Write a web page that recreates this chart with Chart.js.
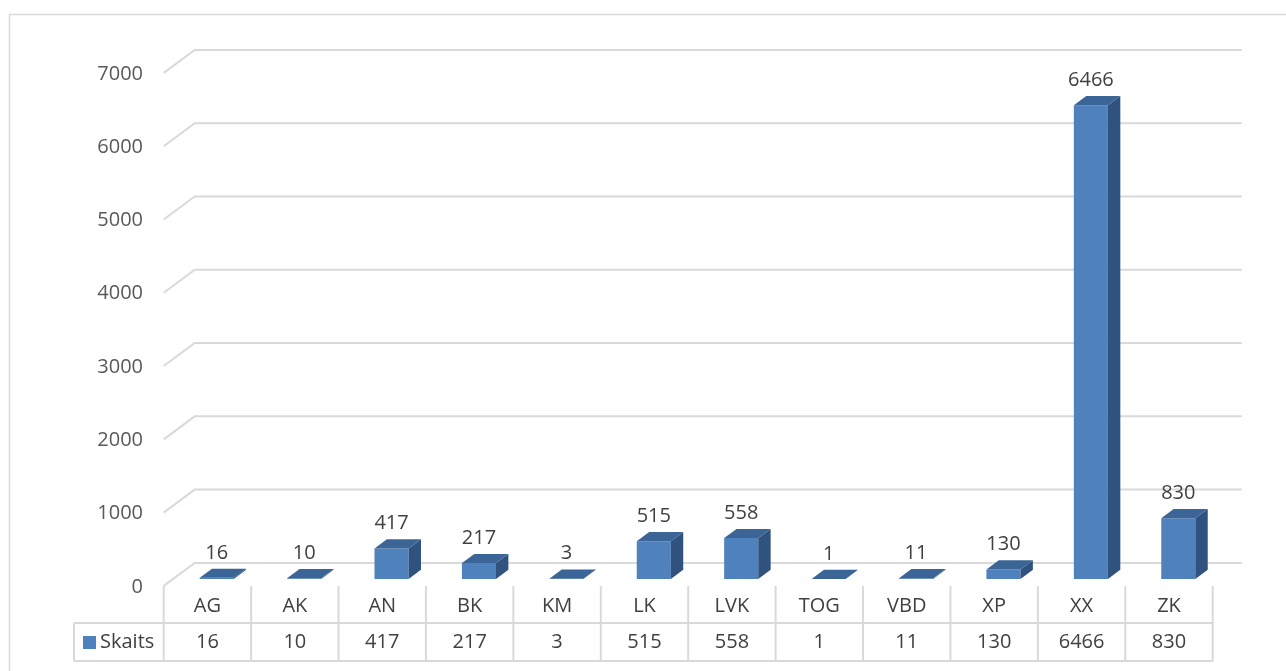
<!DOCTYPE html>
<html>
<head>
<meta charset="utf-8">
<script src="https://cdn.jsdelivr.net/npm/chart.js@4.4.1/dist/chart.umd.min.js"></script>
<style>
  body { margin: 0; background: #fff; }
  canvas { display: block; }
</style>
</head>
<body>
<canvas id="myChart" width="1286" height="671"></canvas>
<script>
// Data
const categories = ['AG', 'AK', 'AN', 'BK', 'KM', 'LK', 'LVK', 'TOG', 'VBD', 'XP', 'XX', 'ZK'];
const skaits     = [16, 10, 417, 217, 3, 515, 558, 1, 11, 130, 6466, 830];
const yTicks     = [0, 1000, 2000, 3000, 4000, 5000, 6000, 7000];
const seriesName = 'Skaits';

// 3D look: full floor depth and where the bars sit in it
const DEPTH_X = 31, DEPTH_Y = 23;
const BAR_F0 = 0.3, BAR_F1 = 0.7;
const FONT = '20px "Open Sans", sans-serif';
const GRID = '#d9d9d9';

// shift from the bar front plane to depth f
const dx = f => (f - BAR_F0) * DEPTH_X;
const dy = f => (BAR_F0 - f) * DEPTH_Y;

const chart3d = {
  id: 'chart3d',
  beforeDatasetsDraw(chart) {
    const { ctx } = chart;
    const xs = chart.scales.x, ys = chart.scales.y;
    const left = xs.left + dx(0), right = xs.right + dx(0);

    ctx.save();
    // outer border
    ctx.strokeStyle = GRID;
    ctx.lineWidth = 1.5;
    ctx.beginPath();
    ctx.moveTo(9.5, 671); ctx.lineTo(9.5, 14.5); ctx.lineTo(1286, 14.5);
    ctx.stroke();

    // back wall grid lines + side diagonals
    ctx.lineWidth = 2;
    yTicks.forEach(v => {
      const y = ys.getPixelForValue(v);
      ctx.beginPath();
      ctx.moveTo(left, y + dy(0));
      ctx.lineTo(left + DEPTH_X, y + dy(1));
      ctx.lineTo(right + DEPTH_X - 2, y + dy(1));
      ctx.stroke();
    });

    // y tick labels
    ctx.fillStyle = '#595959';
    ctx.font = FONT;
    ctx.textAlign = 'right';
    ctx.textBaseline = 'middle';
    yTicks.forEach(v => {
      ctx.fillText(String(v), 143, ys.getPixelForValue(v) + dy(0) + 1);
    });

    // data table
    const top = ys.getPixelForValue(0) + dy(0);
    const rowMid = top + 37, bottom = top + 75;
    const colW = (right - left) / categories.length;
    ctx.strokeStyle = GRID;
    ctx.lineWidth = 2;
    ctx.beginPath();
    for (let i = 0; i <= categories.length; i++) {
      const x = left + i * colW;
      ctx.moveTo(x, top); ctx.lineTo(x, bottom);
    }
    ctx.moveTo(74, rowMid); ctx.lineTo(right, rowMid);
    ctx.moveTo(74, bottom); ctx.lineTo(right, bottom);
    ctx.moveTo(74, rowMid); ctx.lineTo(74, bottom);
    ctx.stroke();

    ctx.fillStyle = '#404040';
    ctx.textAlign = 'center';
    categories.forEach((c, i) => {
      const cx = left + (i + 0.5) * colW;
      ctx.fillText(c, cx, top + 20);
      ctx.fillText(String(skaits[i]), cx, rowMid + 19);
    });
    // legend key
    ctx.fillStyle = '#4f81bd';
    ctx.fillRect(83, 636, 13, 13);
    ctx.fillStyle = '#404040';
    ctx.textAlign = 'left';
    ctx.fillText(seriesName, 100, rowMid + 19);
    ctx.restore();
  },
  afterDatasetsDraw(chart) {
    const { ctx } = chart;
    const meta = chart.getDatasetMeta(0);
    const ox = (BAR_F1 - BAR_F0) * DEPTH_X, oy = (BAR_F1 - BAR_F0) * DEPTH_Y;
    ctx.save();
    meta.data.forEach((bar, i) => {
      const { x, y, base, width } = bar.getProps(['x', 'y', 'base', 'width'], true);
      const l = x - width / 2, r = x + width / 2;
      // side face
      ctx.fillStyle = '#30527e';
      ctx.beginPath();
      ctx.moveTo(r, y); ctx.lineTo(r + ox, y - oy);
      ctx.lineTo(r + ox, base - oy); ctx.lineTo(r, base);
      ctx.closePath(); ctx.fill();
      // top face
      ctx.fillStyle = '#3b6597';
      ctx.beginPath();
      ctx.moveTo(l, y); ctx.lineTo(r, y);
      ctx.lineTo(r + ox, y - oy); ctx.lineTo(l + ox, y - oy);
      ctx.closePath(); ctx.fill();
      // value label
      ctx.fillStyle = '#404040';
      ctx.font = FONT;
      ctx.textAlign = 'center';
      ctx.textBaseline = 'middle';
      ctx.fillText(String(skaits[i]), x, y - 25);
    });
    ctx.restore();
  }
};

const ctx = document.getElementById('myChart').getContext('2d');
new Chart(ctx, {
  type: 'bar',
  data: {
    labels: categories,
    datasets: [{
      label: seriesName,
      data: skaits,
      backgroundColor: '#4f81bd',
      borderWidth: 0,
      barPercentage: 0.39,
      categoryPercentage: 1,
    }]
  },
  options: {
    responsive: false,
    animation: false,
    layout: { padding: { left: 173, right: 64, top: 66, bottom: 92 } },
    scales: {
      x: { display: false, offset: true },
      y: { display: false, min: 0, max: 7000 }
    },
    plugins: {
      legend: { display: false },
      tooltip: { enabled: false }
    }
  },
  plugins: [chart3d]
});
</script>
</body>
</html>
